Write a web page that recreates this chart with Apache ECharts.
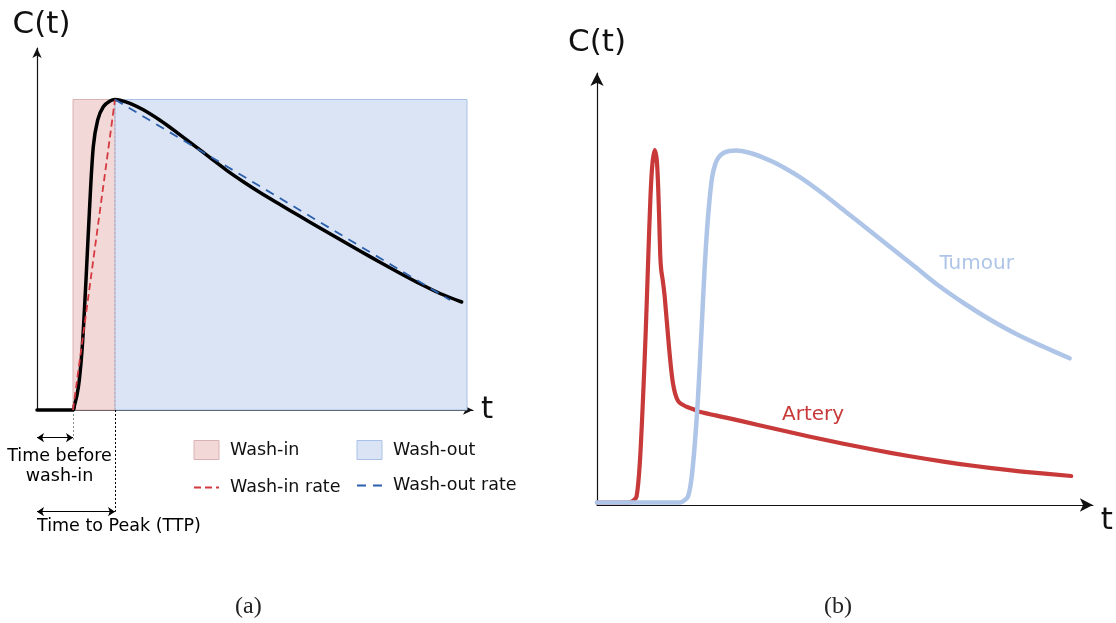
<!DOCTYPE html>
<html>
<head>
<meta charset="utf-8">
<script src="https://cdn.jsdelivr.net/npm/echarts@6/dist/echarts.min.js"></script>
<style>
  html, body { margin: 0; padding: 0; background: #ffffff; }
  #chart { width: 1116px; height: 623px; }
</style>
</head>
<body>
<div id="chart"></div>
<script>
// ---- (a) enhancement curve with wash-in / wash-out phases ----
const signalTime = [0, 3.6, 3.75, 4.0, 4.23, 4.53, 4.9, 5.23, 5.63, 6.07, 6.63, 7.3, 7.8, 8.3, 9.3, 10.63, 12.3, 13.97, 15.63, 17.3, 18.97, 20.63, 22.3, 24.3, 26.3, 28.3, 30.3, 32.3, 34.3, 36.3, 38.3, 40.3, 42.47];
const signalConc = [0, 0, 0.5, 1.5, 3.0, 6.33, 13.0, 19.67, 26.33, 29.0, 30.33, 30.9, 31.05, 30.98, 30.67, 30.02, 28.97, 27.77, 26.52, 25.24, 23.97, 22.83, 21.75, 20.55, 19.37, 18.2, 17.04, 15.9, 14.78, 13.68, 12.62, 11.65, 10.8];

const washInStart = 3.6;      // time before wash-in
const peakTime = 7.8;         // time to peak (TTP)
const peakConc = 31.05;
const washOutEnd = 43.0;
const washOutRateEnd = [41.3, 11.0];

const legendNames = ['Wash-in', 'Wash-out', 'Wash-in rate', 'Wash-out rate'];
const annotationText = ['Time before\nwash-in', 'Time to Peak (TTP)'];
const annotationRow = [2.77, 10.17];   // depth below the time axis
const annotationTextRow = [5.65, 11.6];

// ---- (b) arterial input vs tumour enhancement ----
const arteryTime = [0, 3.2, 3.6, 3.97, 4.3, 4.63, 4.9, 5.13, 5.37, 5.57, 5.8, 6.03, 6.23, 6.35, 6.45, 6.6, 6.8, 7.23, 7.63, 8.13, 8.97, 9.63, 10.3, 12.97, 16.3, 19.63, 22.97, 26.3, 29.63, 32.97, 36.3, 39.63, 42.97, 47.63];
const arteryConc = [0.25, 0.25, 0.4, 0.83, 4.2, 10.83, 17.5, 24.2, 30.83, 34.17, 35.5, 34.17, 29.17, 25.0, 23.5, 22.5, 20.83, 15.83, 12.17, 10.43, 9.83, 9.6, 9.33, 8.74, 7.98, 7.22, 6.5, 5.82, 5.19, 4.62, 4.12, 3.69, 3.32, 2.9];
const tumourTime = [0, 8.3, 8.7, 9.13, 9.47, 9.8, 10.15, 10.5, 10.8, 11.05, 11.3, 11.55, 11.85, 12.2, 12.7, 13.3, 13.97, 15.3, 16.63, 17.97, 20.3, 22.63, 24.97, 27.3, 29.63, 32.1, 34.3, 36.97, 39.63, 42.3, 44.97, 47.47];
const tumourConc = [0.25, 0.25, 0.4, 0.83, 2.5, 5.83, 10.83, 17.5, 23.5, 27.5, 30.5, 32.7, 34.0, 34.75, 35.2, 35.4, 35.45, 35.23, 34.77, 34.17, 32.83, 31.17, 29.33, 27.5, 25.65, 23.7, 21.95, 20.1, 18.45, 17.0, 15.77, 14.67];
const curveNames = ['Artery', 'Tumour'];
const curveLabelAt = [[21.7, 9.0], [38.13, 24.1]];

const captions = ['(a)', '(b)'];

// ---- styling ----
const FONT = "'DejaVu Sans', Verdana, sans-serif";
const INK = '#111111';
const washInFill = '#f3d8d8', washInEdge = '#d8b2b4';
const washOutFill = '#dae4f4', washOutEdge = '#a9c1e6';
const arteryColor = '#c83a3a', tumourColor = '#aec5e8';
const noMarker = { color: 'rgba(0,0,0,0)', borderColor: 'rgba(0,0,0,0)', borderWidth: 0 };

const zip = (xs, ys) => xs.map((x, i) => [x, ys[i]]);

function arrowAxis(gridIndex, max, arrowSize, name, nameGap, nameStyle) {
  return {
    gridIndex, type: 'value', min: 0, max,
    axisLine: { show: true, onZero: false, symbol: ['none', 'arrow'], symbolSize: arrowSize,
                lineStyle: { color: INK, width: 1.2 } },
    axisTick: { show: false }, axisLabel: { show: false }, splitLine: { show: false },
    name, nameLocation: 'end', nameGap,
    nameTextStyle: Object.assign({ fontSize: 31, color: INK, fontFamily: FONT }, nameStyle)
  };
}
function hiddenAxis(gridIndex, max, inverse) {
  return { gridIndex, type: 'value', min: 0, max, inverse: !!inverse, show: false };
}

function rectItem(fill, edge) {
  return function (params, api) {
    const a = api.coord([api.value(0), api.value(2)]);
    const b = api.coord([api.value(1), 0]);
    return { type: 'rect', shape: { x: a[0], y: a[1], width: b[0] - a[0], height: b[1] - a[1] },
             style: { fill, stroke: edge, lineWidth: 1 } };
  };
}

const legendText = { fontSize: 17.5, lineHeight: 19, color: INK, fontFamily: FONT, padding: [0, 0, 0, 6] };

const option = {
  animation: false,
  backgroundColor: '#ffffff',
  title: [
    { text: captions[0], left: 230, top: 590, textStyle: { fontFamily: "'Liberation Serif', 'DejaVu Serif', serif", fontSize: 24, fontWeight: 'normal', color: '#222' } },
    { text: captions[1], left: 819, top: 590, textStyle: { fontFamily: "'Liberation Serif', 'DejaVu Serif', serif", fontSize: 24, fontWeight: 'normal', color: '#222' } }
  ],
  legend: [
    { orient: 'vertical', left: 188, top: 435, itemWidth: 25, itemHeight: 19, itemGap: 18, selectedMode: false,
      textStyle: legendText,
      data: [
        { name: legendNames[0], icon: 'rect', itemStyle: { color: washInFill, borderColor: washInEdge, borderWidth: 1 } },
        { name: legendNames[2], itemStyle: noMarker }
      ] },
    { orient: 'vertical', left: 351, top: 435, itemWidth: 25, itemHeight: 19, itemGap: 16, selectedMode: false,
      textStyle: legendText,
      data: [
        { name: legendNames[1], icon: 'rect', itemStyle: { color: washOutFill, borderColor: washOutEdge, borderWidth: 1 } },
        { name: legendNames[3], itemStyle: noMarker }
      ] }
  ],
  grid: [
    { left: 37, top: 48, width: 436, height: 362 },   // (a)
    { left: 37, top: 410, width: 436, height: 120 },  // (a) time annotations
    { left: 597, top: 73, width: 498, height: 432 }   // (b)
  ],
  xAxis: [
    arrowAxis(0, 43.6, [7, 10], 't', 8, { align: 'left', verticalAlign: 'middle', padding: [0, 0, 16, 0] }),
    hiddenAxis(1, 43.6),
    arrowAxis(2, 49.8, [10, 13], 't', 8, { align: 'left', verticalAlign: 'top' })
  ],
  yAxis: [
    arrowAxis(0, 36.2, [7, 10], 'C(t)', 23, { align: 'center', verticalAlign: 'middle', padding: [0, 0, 0, 9] }),
    hiddenAxis(1, 12, true),
    arrowAxis(2, 43.2, [10, 13], 'C(t)', 30, { align: 'center', verticalAlign: 'middle' })
  ],
  series: [
    // phase regions
    { type: 'custom', name: legendNames[0], xAxisIndex: 0, yAxisIndex: 0, z: 1,
      itemStyle: { color: washInFill, borderColor: washInEdge },
      renderItem: rectItem(washInFill, washInEdge), encode: { x: [0, 1], y: 2 },
      data: [[washInStart, peakTime, peakConc]] },
    { type: 'custom', name: legendNames[1], xAxisIndex: 0, yAxisIndex: 0, z: 1,
      itemStyle: { color: washOutFill, borderColor: washOutEdge },
      renderItem: rectItem(washOutFill, washOutEdge), encode: { x: [0, 1], y: 2 },
      data: [[peakTime, washOutEnd, peakConc]] },
    // boundary between the phases
    { type: 'line', xAxisIndex: 0, yAxisIndex: 0, z: 2, symbol: 'none', silent: true,
      lineStyle: { color: '#c9a3aa', width: 1, type: [2, 2] },
      data: [[peakTime, 0], [peakTime, peakConc]] },
    // concentration curve
    { type: 'line', name: 'C(t)', xAxisIndex: 0, yAxisIndex: 0, z: 3, symbol: 'none', smooth: 0.3, clip: false,
      lineStyle: { color: '#000000', width: 3.5, cap: 'round', join: 'round' },
      data: zip(signalTime, signalConc) },
    // rates
    { type: 'line', name: legendNames[2], xAxisIndex: 0, yAxisIndex: 0, z: 4, symbol: 'none',
      lineStyle: { color: '#d43a40', width: 1.8, type: [7, 4] }, itemStyle: { color: '#d43a40' },
      data: [[washInStart, 0], [peakTime, peakConc]] },
    { type: 'line', name: legendNames[3], xAxisIndex: 0, yAxisIndex: 0, z: 4, symbol: 'none',
      lineStyle: { color: '#2c5fab', width: 1.8, type: [9, 7] }, itemStyle: { color: '#2c5fab' },
      data: [[peakTime, peakConc], washOutRateEnd] },
    // guide lines below the time axis
    { type: 'lines', coordinateSystem: 'cartesian2d', xAxisIndex: 1, yAxisIndex: 1, symbol: 'none', silent: true,
      lineStyle: { width: 1, type: [2, 2], opacity: 1 },
      data: [
        { coords: [[washInStart, 0], [washInStart, annotationRow[0] + 0.2]], lineStyle: { color: '#8a8a8a' } },
        { coords: [[peakTime, 0], [peakTime, annotationRow[1]]], lineStyle: { color: '#000000' } }
      ] },
    // double-headed interval arrows
    { type: 'lines', coordinateSystem: 'cartesian2d', xAxisIndex: 1, yAxisIndex: 1,
      symbol: ['arrow', 'arrow'], symbolSize: 7, silent: true,
      lineStyle: { color: '#000000', width: 1, opacity: 1 },
      data: [
        { coords: [[0, annotationRow[0]], [washInStart, annotationRow[0]]] },
        { coords: [[0, annotationRow[1]], [peakTime, annotationRow[1]]] }
      ] },
    // interval captions
    { type: 'scatter', xAxisIndex: 1, yAxisIndex: 1, symbolSize: 0, silent: true,
      itemStyle: { opacity: 1 },
      label: { show: true, position: 'inside', color: '#000000', opacity: 1, fontSize: 17.5, fontFamily: FONT, lineHeight: 20 },
      data: [
        { value: [2.25, annotationTextRow[0]], label: { formatter: annotationText[0], align: 'center' } },
        { value: [0, annotationTextRow[1]], label: { formatter: annotationText[1], align: 'left' } }
      ] },
    // (b) curves
    { type: 'line', name: curveNames[0], xAxisIndex: 2, yAxisIndex: 2, z: 3, symbol: 'none', smooth: 0.3, clip: false,
      lineStyle: { color: arteryColor, width: 4.2, cap: 'round', join: 'round' },
      data: zip(arteryTime, arteryConc),
      markPoint: { symbol: 'circle', symbolSize: 0, silent: true,
        label: { show: true, position: 'inside', formatter: '{b}', color: arteryColor, fontSize: 20, fontFamily: FONT },
        data: [{ name: curveNames[0], coord: curveLabelAt[0] }] } },
    { type: 'line', name: curveNames[1], xAxisIndex: 2, yAxisIndex: 2, z: 4, symbol: 'none', smooth: 0.3, clip: false,
      lineStyle: { color: tumourColor, width: 4.5, cap: 'round', join: 'round' },
      data: zip(tumourTime, tumourConc),
      markPoint: { symbol: 'circle', symbolSize: 0, silent: true,
        label: { show: true, position: 'inside', formatter: '{b}', color: tumourColor, fontSize: 20, fontFamily: FONT },
        data: [{ name: curveNames[1], coord: curveLabelAt[1] }] } }
  ]
};

const chart = echarts.init(document.getElementById('chart'), null, { renderer: 'canvas' });
chart.setOption(option);
</script>
</body>
</html>
